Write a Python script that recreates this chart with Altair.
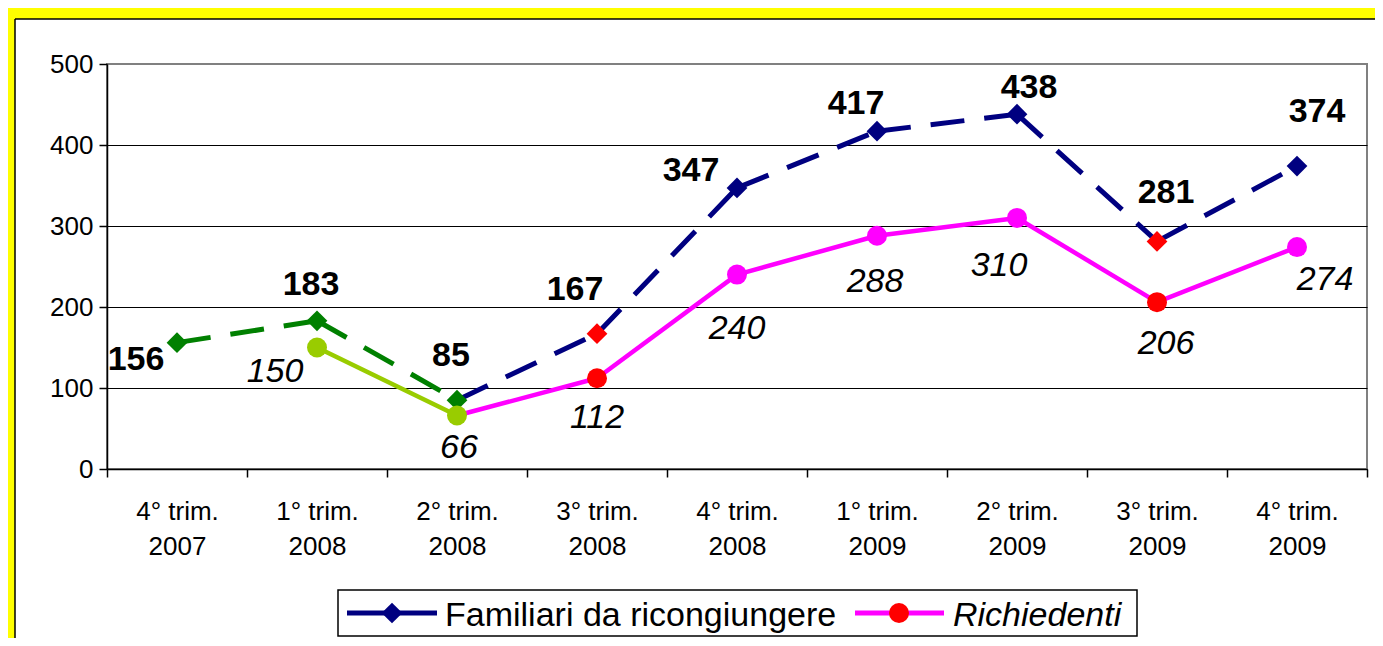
import altair as alt
import pandas as pd

# ---------------- data ----------------
quarters = ["4° trim.", "1° trim.", "2° trim.", "3° trim.", "4° trim.",
            "1° trim.", "2° trim.", "3° trim.", "4° trim."]
years = ["2007", "2008", "2008", "2008", "2008", "2009", "2009", "2009", "2009"]
categories = [q + "\n" + y for q, y in zip(quarters, years)]

familiari = [156, 183, 85, 167, 347, 417, 438, 281, 374]
richiedenti = [None, 150, 66, 112, 240, 288, 310, 206, 274]

series_names = ["Familiari da ricongiungere", "Richiedenti"]
y_ticks = [0, 100, 200, 300, 400, 500]

# ---------------- styles ----------------
FONT = "Liberation Sans"
GREEN = "#008000"
LIME = "#99CC00"
NAVY = "#000080"
MAGENTA = "#FF00FF"
RED = "#FF0000"

# colour of segment i -> i+1
fam_segment_colors = [GREEN, GREEN, NAVY, NAVY, NAVY, NAVY, NAVY, NAVY]
ric_segment_colors = [None, LIME, MAGENTA, MAGENTA, MAGENTA, MAGENTA, MAGENTA, MAGENTA]
fam_marker_colors = [GREEN, GREEN, GREEN, RED, NAVY, NAVY, NAVY, RED, NAVY]
ric_marker_colors = [None, LIME, LIME, RED, MAGENTA, MAGENTA, MAGENTA, RED, MAGENTA]

# label offsets (pixels) relative to the point
fam_label_dx = [-41, -6, -6, -22, -46, -21, 12, 9, 20]
fam_label_dy = [15, -38, -46, -46, -19, -29, -28, -50, -56]
ric_label_dx = [None, -42, 2, 0, 0, -2, -18, 9, 28]
ric_label_dy = [None, 22, 30, 38, 52, 44, 46, 40, 31]

# ---------------- tables ----------------
def points_table(values, colors):
    rows = []
    for i, (c, v, col) in enumerate(zip(categories, values, colors)):
        if v is None:
            continue
        rows.append({"idx": i, "cat": c, "v": v, "color": col, "label": str(v)})
    return pd.DataFrame(rows)


def segments_table(values, seg_colors, prefix):
    rows = []
    for i in range(len(values) - 1):
        a, b = values[i], values[i + 1]
        if a is None or b is None:
            continue
        for j in (i, i + 1):
            rows.append({"seg": f"{prefix}{i}", "cat": categories[j],
                         "v": values[j], "color": seg_colors[i]})
    return pd.DataFrame(rows)


fam_pts = points_table(familiari, fam_marker_colors)
ric_pts = points_table(richiedenti, ric_marker_colors)
fam_seg = segments_table(familiari, fam_segment_colors, "F")
ric_seg = segments_table(richiedenti, ric_segment_colors, "R")
one = pd.DataFrame({"a": [0]})

# ---------------- encodings ----------------
X = alt.X(
    "cat:N", sort=categories, bandPosition=0.5,
    scale=alt.Scale(type="band", domain=categories, paddingInner=0, paddingOuter=0),
    axis=alt.Axis(
        title=None, labelExpr="split(datum.label, '\\n')", labelAngle=0,
        labelFont=FONT, labelFontSize=26, labelColor="black", labelLineHeight=35,
        labelBaseline="top", labelPadding=21, tickBand="extent", tickSize=8,
        tickColor="black", tickWidth=1.5, domainColor="black", domainWidth=1.5,
        grid=False, labelOverlap=False,
    ),
)
Y = alt.Y(
    "v:Q",
    scale=alt.Scale(domain=[0, 500], nice=False, zero=True),
    axis=alt.Axis(
        title=None, values=y_ticks, labelFont=FONT, labelFontSize=26,
        labelColor="black", labelPadding=6, tickSize=8, tickColor="black",
        tickWidth=1.5, domainColor="black", domainWidth=1.5, grid=True,
        gridColor=alt.condition("datum.value == 500", alt.value("#808080"), alt.value("black")),
        gridWidth=1.2,
    ),
)
COLOR = alt.Color("color:N", scale=None, legend=None)

# ---------------- layers ----------------
fam_lines = alt.Chart(fam_seg).mark_line(strokeWidth=5, strokeDash=[34, 20]).encode(
    x=X, y=Y, detail="seg:N", color=COLOR)
fam_marks = alt.Chart(fam_pts).mark_point(
    shape="diamond", filled=True, size=430, opacity=1, strokeWidth=0).encode(
    x=X, y=Y, color=COLOR)
ric_lines = alt.Chart(ric_seg).mark_line(strokeWidth=4.5).encode(
    x=X, y=Y, detail="seg:N", color=COLOR)
ric_marks = alt.Chart(ric_pts).mark_point(
    shape="circle", filled=True, size=400, opacity=1, strokeWidth=0).encode(
    x=X, y=Y, color=COLOR)


def label_layers(df, dxs, dys, weight, style):
    out = []
    for i, (dx, dy) in enumerate(zip(dxs, dys)):
        if dx is None:
            continue
        out.append(
            alt.Chart(df).transform_filter(f"datum.idx == {i}").mark_text(
                dx=dx, dy=dy + 2, font=FONT, fontSize=34, fontWeight=weight,
                fontStyle=style, color="black", align="center", baseline="middle",
            ).encode(x=X, y=Y, text="label:N")
        )
    return out


fam_labels = label_layers(fam_pts, fam_label_dx, fam_label_dy, "bold", "normal")
ric_labels = label_layers(ric_pts, ric_label_dx, ric_label_dy, "normal", "italic")

# ---------------- frame (yellow border) ----------------
frame = [
    alt.Chart(one).mark_rule(color="#FFFF00", strokeWidth=11).encode(
        x=alt.value(-110), x2=alt.value(1400), y=alt.value(-50.5)),
    alt.Chart(one).mark_rule(color="#FFFF00", strokeWidth=7).encode(
        x=alt.value(-95.5), y=alt.value(-60), y2=alt.value(700)),
    alt.Chart(one).mark_rule(color="black", strokeWidth=1.5).encode(
        x=alt.value(-92), x2=alt.value(1400), y=alt.value(-45)),
    alt.Chart(one).mark_rule(color="black", strokeWidth=1.5).encode(
        x=alt.value(-92), y=alt.value(-45), y2=alt.value(700)),
]

# ---------------- legend ----------------
legend = [
    alt.Chart(one).mark_rect(fill="white", stroke="black", strokeWidth=1.5).encode(
        x=alt.value(231), x2=alt.value(1030), y=alt.value(526), y2=alt.value(572)),
    alt.Chart(one).mark_rule(color=NAVY, strokeWidth=5).encode(
        x=alt.value(240), x2=alt.value(330), y=alt.value(549)),
    alt.Chart(one).mark_point(shape="diamond", filled=True, size=430, color=NAVY,
                              opacity=1, strokeWidth=0).encode(
        x=alt.value(285), y=alt.value(549)),
    alt.Chart(one).mark_text(text=series_names[0], font=FONT, fontSize=34,
                             align="left", baseline="alphabetic", color="black").encode(
        x=alt.value(338), y=alt.value(562)),
    alt.Chart(one).mark_rule(color=MAGENTA, strokeWidth=5).encode(
        x=alt.value(748), x2=alt.value(837), y=alt.value(549)),
    alt.Chart(one).mark_point(shape="circle", filled=True, size=400, color=RED,
                              opacity=1, strokeWidth=0).encode(
        x=alt.value(792), y=alt.value(549)),
    alt.Chart(one).mark_text(text=series_names[1], font=FONT, fontSize=34,
                             fontStyle="italic", align="left", baseline="alphabetic",
                             color="black").encode(
        x=alt.value(846), y=alt.value(562)),
]

chart = alt.layer(
    fam_lines, fam_marks, ric_lines, ric_marks, *fam_labels, *ric_labels,
    *frame, *legend,
).properties(
    width=1260, height=405,
    autosize=alt.AutoSizeParams(type="none"),
    padding={"left": 99, "top": 56, "right": 8, "bottom": 169},
    background="white",
).configure_view(stroke="#808080", strokeWidth=2)

chart.save("out.html", embed_options={"renderer": "svg", "actions": False})
